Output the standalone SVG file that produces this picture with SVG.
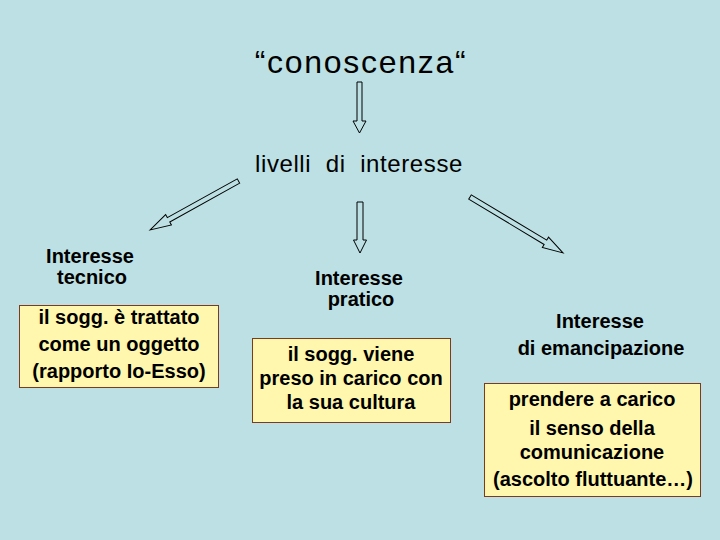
<svg xmlns="http://www.w3.org/2000/svg" width="720" height="540" viewBox="0 0 720 540">
<style>
.t{font-family:"Liberation Sans",Arial,sans-serif;fill:#000;text-anchor:middle}
.big{font-size:32px;letter-spacing:1.7px}
.mid{font-size:24px;letter-spacing:0.6px}
.lab{font-size:20px;font-weight:bold}
.box{fill:#FFF7AE;stroke:#7A3B1E;stroke-width:1}
.arr{fill:none;stroke:#000;stroke-width:1;stroke-linejoin:miter}
</style>
<rect x="0" y="0" width="720" height="540" fill="#BCE0E3"/>
<g id="title"><text class="t big" x="361" y="73">“conoscenza“</text></g>
<g id="livelli"><text class="t mid" x="359" y="172" xml:space="preserve">livelli  di  interesse</text></g>
<g id="tecnico">
<text class="t lab" x="90" y="263">Interesse</text>
<text class="t lab" x="92" y="284">tecnico</text>
<rect class="box" x="19.5" y="305.5" width="199" height="82"/>
<text class="t lab" x="119" y="324">il sogg. è trattato</text>
<text class="t lab" x="119" y="351">come un oggetto</text>
<text class="t lab" x="119" y="378">(rapporto Io-Esso)</text>
</g>
<g id="pratico">
<text class="t lab" x="359" y="285">Interesse</text>
<text class="t lab" x="361" y="306">pratico</text>
<rect class="box" x="252.5" y="338.5" width="198" height="84"/>
<text class="t lab" x="351" y="361">il sogg. viene</text>
<text class="t lab" x="351" y="385">preso in carico con</text>
<text class="t lab" x="351" y="409">la sua cultura</text>
</g>
<g id="emancipazione">
<text class="t lab" x="600" y="328">Interesse</text>
<text class="t lab" x="601" y="355">di emancipazione</text>
<rect class="box" x="484.5" y="383.5" width="216" height="113"/>
<text class="t lab" x="592" y="406">prendere a carico</text>
<text class="t lab" x="592" y="435">il senso della</text>
<text class="t lab" x="592" y="459">comunicazione</text>
<text class="t lab" x="593" y="486">(ascolto fluttuante…)</text>
</g>
<g id="connectors">
<polygon class="arr" points="357,82 362,82 362,121 366,121 359.5,133 353,121 357,121"/>
<polygon class="arr" points="357,202 363,202 363,240 366.5,240 360,253 353.5,240 357,240"/>
<polygon class="arr" transform="translate(238.5,181) rotate(151)" points="0,-2.5 80,-2.5 80,-6 101,0 80,6 80,2.5 0,2.5"/>
<polygon class="arr" transform="translate(470,197) rotate(31)" points="0,-2.5 88,-2.5 88,-6 108.5,0 88,6 88,2.5 0,2.5"/>
</g>
</svg>
